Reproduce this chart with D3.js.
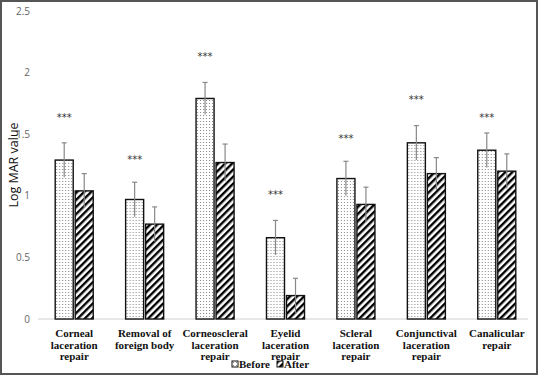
<!DOCTYPE html>
<html>
<head>
    <meta charset="utf-8">
    <script src="https://cdnjs.cloudflare.com/ajax/libs/d3/7.8.5/d3.min.js"></script>
    <style>
        body { margin: 0; background: #fff; }
    </style>
</head>
<body>
<div id="chart"></div>
<script>
// categories with label lines
var categories = ["Corneal laceration repair", "Removal of foreign body", "Corneoscleral laceration repair",
    "Eyelid laceration repair", "Scleral laceration repair", "Conjunctival laceration repair", "Canalicular repair"];
var labelLines = [
    ["Corneal", "laceration", "repair"],
    ["Removal of", "foreign body"],
    ["Corneoscleral", "laceration", "repair"],
    ["Eyelid", "laceration", "repair"],
    ["Scleral", "laceration", "repair"],
    ["Conjunctival", "laceration", "repair"],
    ["Canalicular", "repair"]
];
var series = ["Before", "After"];
var before = [1.29, 0.97, 1.79, 0.66, 1.14, 1.43, 1.37];
var beforeErr = [0.14, 0.14, 0.13, 0.14, 0.14, 0.14, 0.14];
var after = [1.04, 0.77, 1.27, 0.19, 0.93, 1.18, 1.20];
var afterErr = [0.14, 0.14, 0.15, 0.14, 0.14, 0.13, 0.14];
var starLevel = [1.65, 1.31, 2.14, 1.02, 1.48, 1.79, 1.65];
var yTicks = [0, 0.5, 1, 1.5, 2, 2.5];

var width = 538, height = 375;

var svg = d3.select("#chart").append("svg")
    .attr("width", width)
    .attr("height", height);

// patterns
var defs = svg.append("defs");
var dots = defs.append("pattern")
    .attr("id", "dots")
    .attr("patternUnits", "userSpaceOnUse")
    .attr("width", 3).attr("height", 3);
dots.append("rect").attr("width", 3).attr("height", 3).attr("fill", "#fff");
dots.append("rect").attr("x", 1).attr("y", 1).attr("width", 1).attr("height", 1).attr("fill", "#888");

var hatch = defs.append("pattern")
    .attr("id", "hatch")
    .attr("patternUnits", "userSpaceOnUse")
    .attr("width", 5).attr("height", 5)
    .attr("patternTransform", "rotate(45)");
hatch.append("rect").attr("width", 5).attr("height", 5).attr("fill", "#fff");
hatch.append("rect").attr("x", 0).attr("y", 0).attr("width", 2.4).attr("height", 5).attr("fill", "#000");

var fills = {Before: "url(#dots)", After: "url(#hatch)"};

// frame
svg.append("rect")
    .attr("x", 1).attr("y", 1)
    .attr("width", width - 2).attr("height", height - 2)
    .attr("fill", "none")
    .attr("stroke", "#555")
    .attr("stroke-width", 2);

var x0 = d3.scaleBand().domain(categories).range([39, 532]).paddingInner(0.46).paddingOuter(0.23);
var x1 = d3.scaleBand().domain(series).range([0, x0.bandwidth()]).paddingInner(0.1);
var y = d3.scaleLinear().domain([0, 2.5]).range([319, 11]);

// y tick labels
svg.append("g").selectAll("text")
    .data(yTicks)
    .enter().append("text")
    .attr("x", 30)
    .attr("y", function (d) { return y(d); })
    .attr("dy", "0.35em")
    .attr("text-anchor", "end")
    .attr("font-family", "'Open Sans', sans-serif")
    .attr("font-size", 10)
    .attr("fill", "#666")
    .text(function (d) { return d; });

// y title
svg.append("text")
    .attr("transform", "translate(18," + 165 + ") rotate(-90)")
    .attr("text-anchor", "middle")
    .attr("font-family", "'Open Sans', sans-serif")
    .attr("font-size", 12.5)
    .attr("fill", "#111")
    .text("Log MAR value");

// baseline
svg.append("line")
    .attr("x1", 38).attr("x2", 528)
    .attr("y1", y(0)).attr("y2", y(0))
    .attr("stroke", "#d0d0d0").attr("stroke-width", 1);

var rows = categories.map(function (c, i) {
    return {cat: c, vals: [
        {s: "Before", v: before[i], e: beforeErr[i]},
        {s: "After", v: after[i], e: afterErr[i]}
    ]};
});

var groups = svg.append("g").selectAll("g")
    .data(rows)
    .enter().append("g")
    .attr("transform", function (d) { return "translate(" + x0(d.cat) + ",0)"; });

groups.selectAll("rect")
    .data(function (d) { return d.vals; })
    .enter().append("rect")
    .attr("x", function (d) { return x1(d.s); })
    .attr("y", function (d) { return y(d.v); })
    .attr("width", x1.bandwidth())
    .attr("height", function (d) { return y(0) - y(d.v); })
    .attr("fill", function (d) { return fills[d.s]; })
    .attr("stroke", "#111")
    .attr("stroke-width", 1.4);

// error bars
var eb = groups.selectAll("g.err")
    .data(function (d) { return d.vals; })
    .enter().append("g").attr("class", "err");
eb.append("line")
    .attr("x1", function (d) { return x1(d.s) + x1.bandwidth() / 2; })
    .attr("x2", function (d) { return x1(d.s) + x1.bandwidth() / 2; })
    .attr("y1", function (d) { return y(d.v - d.e); })
    .attr("y2", function (d) { return y(d.v + d.e); })
    .attr("stroke", "#888").attr("stroke-width", 1.2);
eb.append("line")
    .attr("x1", function (d) { return x1(d.s) + x1.bandwidth() / 2 - 2.5; })
    .attr("x2", function (d) { return x1(d.s) + x1.bandwidth() / 2 + 2.5; })
    .attr("y1", function (d) { return y(d.v + d.e); })
    .attr("y2", function (d) { return y(d.v + d.e); })
    .attr("stroke", "#888").attr("stroke-width", 1.2);

// stars
groups.append("text")
    .attr("x", x1("Before") + x1.bandwidth() / 2)
    .attr("y", function (d, i) { return y(starLevel[i]) + 5; })
    .attr("text-anchor", "middle")
    .attr("font-family", "'DejaVu Sans', sans-serif")
    .attr("font-size", 10)
    .attr("fill", "#333")
    .text("***");

// x labels
groups.append("text")
    .attr("text-anchor", "middle")
    .attr("font-family", "'Liberation Serif', serif")
    .attr("font-weight", "bold")
    .attr("font-size", 11)
    .attr("fill", "#111")
    .selectAll("tspan")
    .data(function (d, i) { return labelLines[i]; })
    .enter().append("tspan")
    .attr("x", x0.bandwidth() / 2)
    .attr("y", function (d, j) { return 337 + j * 11.5; })
    .text(function (d) { return d; });

// legend
var legend = svg.append("g").selectAll("g")
    .data(series)
    .enter().append("g")
    .attr("transform", function (d, i) { return "translate(" + (232 + i * 45) + ",361)"; });
legend.append("rect")
    .attr("width", 6).attr("height", 6)
    .attr("fill", function (d) { return fills[d]; })
    .attr("stroke", "#111").attr("stroke-width", 1);
legend.append("text")
    .attr("x", 7).attr("y", 7)
    .attr("font-family", "'Liberation Serif', serif")
    .attr("font-weight", "bold")
    .attr("font-size", 11)
    .attr("fill", "#111")
    .text(function (d) { return d; });
</script>
</body>
</html>
